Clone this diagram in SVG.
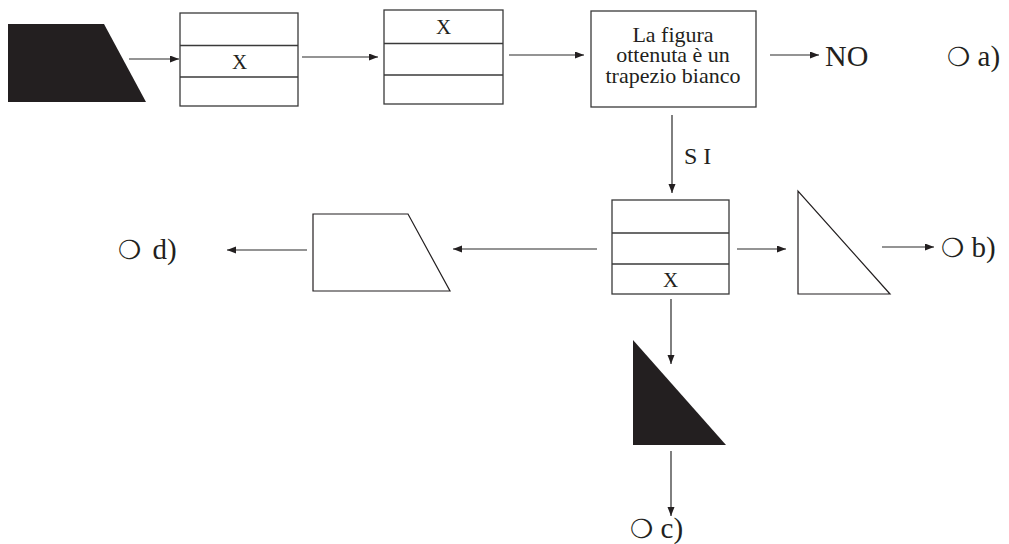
<svg xmlns="http://www.w3.org/2000/svg" width="1009" height="544" viewBox="0 0 1009 544">
<style>
.box{fill:#fff;stroke:#3a3a3a;stroke-width:1.3}
.div{stroke:#3a3a3a;stroke-width:1.3}
.blk{fill:#231f20;stroke:none}
.wht{fill:#fff;stroke:#231f20;stroke-width:1.2}
.con{stroke:#2a2a2a;stroke-width:1.2;fill:none;marker-end:url(#ah)}
text{font-family:"Liberation Serif","Times New Roman",serif;fill:#231f20}
.x{font-size:21px;text-anchor:middle}
.bt{font-size:22px;text-anchor:middle}
.lbl{font-size:29px}
.no{font-size:30px}
.sym{font-family:"DejaVu Sans",sans-serif;font-size:26px}
</style>
<defs>
<marker id="ah" markerUnits="userSpaceOnUse" markerWidth="10" markerHeight="8" refX="9" refY="3.5" orient="auto">
<path d="M0,0 L9,3.5 L0,7 z" fill="#231f20"/>
</marker>
</defs>
<rect width="1009" height="544" fill="#fff"/>
<g id="connectors">
<line class="con" x1="129" y1="59" x2="179" y2="59"/>
<line class="con" x1="302" y1="57" x2="378" y2="57"/>
<line class="con" x1="509" y1="55" x2="584" y2="55"/>
<line class="con" x1="770" y1="55" x2="819" y2="55"/>
<line class="con" x1="672" y1="115" x2="672" y2="193"/>
<line class="con" x1="597" y1="249" x2="453" y2="249"/>
<line class="con" x1="307" y1="250" x2="227" y2="250"/>
<line class="con" x1="737" y1="249" x2="786" y2="249"/>
<line class="con" x1="882" y1="247" x2="934" y2="247"/>
<line class="con" x1="671" y1="299" x2="671" y2="364"/>
<line class="con" x1="671" y1="451" x2="671" y2="516"/>
</g>
<g id="start">
<polygon class="blk" points="8,24 104,24 146,102 8,102"/>
</g>
<g id="box1">
<rect class="box" x="180" y="13" width="118" height="93"/>
<line class="div" x1="180" y1="45.5" x2="298" y2="45.5"/>
<line class="div" x1="180" y1="77" x2="298" y2="77"/>
<text class="x" x="239.5" y="68.5">X</text>
</g>
<g id="box2">
<rect class="box" x="384" y="10" width="119" height="94"/>
<line class="div" x1="384" y1="43.5" x2="503" y2="43.5"/>
<line class="div" x1="384" y1="75" x2="503" y2="75"/>
<text class="x" x="443.5" y="34">X</text>
</g>
<g id="decision">
<rect class="box" x="591" y="11" width="165" height="96"/>
<text class="bt" x="673" y="41.5">La figura</text>
<text class="bt" x="673" y="62">ottenuta è un</text>
<text class="bt" x="673" y="82.5">trapezio bianco</text>
</g>
<g id="no">
<text class="no" x="825" y="66">NO</text>
</g>
<g id="opt-a">
<text class="lbl" x="947" y="66"><tspan class="sym">❍</tspan> a)</text>
</g>
<g id="si">
<text style="font-size:24px" x="684" y="164">S I</text>
</g>
<g id="box4">
<rect class="box" x="612" y="200" width="117" height="94"/>
<line class="div" x1="612" y1="233" x2="729" y2="233"/>
<line class="div" x1="612" y1="264" x2="729" y2="264"/>
<text class="x" x="670.5" y="287">X</text>
</g>
<g id="white-trapezoid">
<polygon class="wht" points="313,214 408,214 450,291 313,291"/>
</g>
<g id="opt-d">
<text class="lbl" x="118" y="259"><tspan class="sym">❍</tspan><tspan dx="4"> d)</tspan></text>
</g>
<g id="white-triangle">
<polygon class="wht" points="798,191 798,294 890,294"/>
</g>
<g id="opt-b">
<text class="lbl" x="941" y="257"><tspan class="sym">❍</tspan> b)</text>
</g>
<g id="black-triangle">
<polygon class="blk" points="633,340 633,445 726,445"/>
</g>
<g id="opt-c">
<text class="lbl" x="630" y="538"><tspan class="sym">❍</tspan> c)</text>
</g>
</svg>
